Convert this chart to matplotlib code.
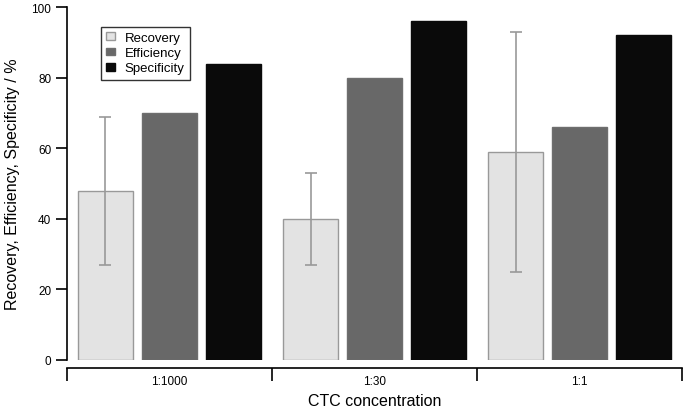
import matplotlib.pyplot as plt
import numpy as np

plt.rcParams['font.family'] = ['Liberation Sans', 'DejaVu Sans']

# CTC capture: recovery / efficiency / specificity per concentration
categories = ['1:1000', '1:30', '1:1']
recovery = [48, 40, 59]
recovery_lo = [27, 27, 25]
recovery_hi = [69, 53, 93]
efficiency = [70, 80, 66]
specificity = [84, 96, 92]

fig = plt.figure(figsize=(6.85, 4.10), dpi=100)
ax = fig.add_axes([0.098, 0.12, 0.898, 0.86])

x = np.arange(len(categories)) + 0.5
w = 0.268
off = 0.313

rec = np.array(recovery)
err = [rec - np.array(recovery_lo), np.array(recovery_hi) - rec]
ax.bar(x - off, recovery, w, color='#e3e3e3', edgecolor='#999999', linewidth=1,
       label='Recovery', zorder=2)
ax.errorbar(x - off, recovery, yerr=err, fmt='none', ecolor='#999999',
            elinewidth=1.2, capsize=4, capthick=1.2, zorder=3)
ax.bar(x, efficiency, w, color='#686868', edgecolor='#6e6e6e', linewidth=1,
       label='Efficiency', zorder=2)
ax.bar(x + off, specificity, w, color='#0a0a0a', edgecolor='#0a0a0a', linewidth=1,
       label='Specificity', zorder=2)

ax.set_xlim(0, 3)
ax.set_ylim(0, 100)
ax.spines['top'].set_visible(False)
ax.spines['right'].set_visible(False)
ax.spines['bottom'].set_position(('outward', 6))
ax.spines['left'].set_linewidth(1.2)
ax.spines['bottom'].set_linewidth(1.2)

ax.set_yticks([0, 20, 40, 60, 80, 100])
ax.tick_params(axis='y', direction='out', length=8, width=1.2, labelsize=8.5)
ax.set_xticks([0, 1, 2, 3])
ax.set_xticklabels([])
ax.tick_params(axis='x', which='major', direction='out', length=9, width=1.2)
ax.set_xticks(x, minor=True)
ax.set_xticklabels(categories, minor=True)
ax.tick_params(axis='x', which='minor', length=0, labelsize=8.5, pad=5)

ax.set_xlabel('CTC concentration', fontsize=11.5, labelpad=4)
ax.set_ylabel('Recovery, Efficiency, Specificity / %', fontsize=11.5, labelpad=8)

leg = ax.legend(loc='upper left', bbox_to_anchor=(0.055, 0.945), fontsize=9.5,
                frameon=True, fancybox=False, edgecolor='black',
                handlelength=0.7, handleheight=0.5, handletextpad=0.7,
                borderpad=0.4, labelspacing=0.25, borderaxespad=0)
leg.get_frame().set_linewidth(1.0)

fig.savefig('out.png', dpi=100)
